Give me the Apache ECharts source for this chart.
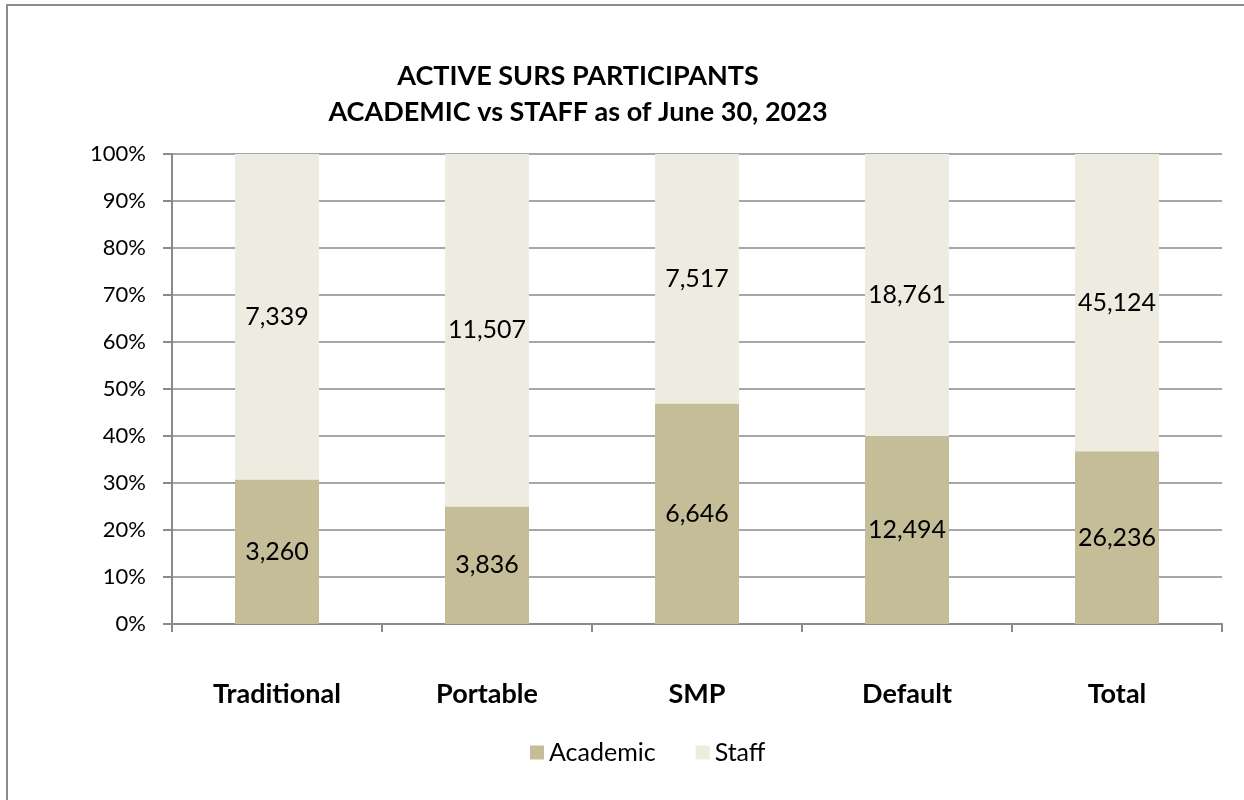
<!DOCTYPE html>
<html>
<head>
<meta charset="utf-8">
<script src="https://cdn.jsdelivr.net/npm/echarts@6/dist/echarts.min.js"></script>
<style>
  html, body { margin: 0; padding: 0; background: #fff; }
  #chart { width: 1244px; height: 800px; }
</style>
</head>
<body>
<div id="chart"></div>
<script>
// categories and counts
var categories = ['Traditional', 'Portable', 'SMP', 'Default', 'Total'];
var academic = [3260, 3836, 6646, 12494, 26236];
var staff = [7339, 11507, 7517, 18761, 45124];
var yTicks = [0, 10, 20, 30, 40, 50, 60, 70, 80, 90, 100];

// 100% stacked -> share of each column
function share(vals, i) {
  return vals[i] / (academic[i] + staff[i]) * 100;
}
var academicPct = categories.map(function (c, i) { return { value: share(academic, i), raw: academic[i] }; });
var staffPct = categories.map(function (c, i) { return { value: share(staff, i), raw: staff[i] }; });

var font = 'Lato, "Open Sans", sans-serif';
var gray = '#8a8a8a';

var chart = echarts.init(document.getElementById('chart'));
chart.setOption({
  animation: false,
  textStyle: { fontFamily: font },
  title: {
    text: 'ACTIVE SURS PARTICIPANTS\nACADEMIC vs STAFF as of June 30, 2023',
    left: 573,
    textAlign: 'center',
    top: 53,
    textStyle: { fontSize: 27, fontWeight: 'bold', color: '#000', lineHeight: 36, fontFamily: font }
  },
  legend: {
    bottom: 30,
    left: 525,
    icon: 'rect',
    itemWidth: 14,
    itemHeight: 14,
    itemGap: 40,
    textStyle: { fontSize: 25, color: '#000', fontFamily: font },
    data: ['Academic', 'Staff']
  },
  grid: { left: 172, right: 22, top: 154, bottom: 176, containLabel: false },
  xAxis: {
    type: 'category',
    data: categories,
    axisLine: { lineStyle: { color: gray, width: 2 } },
    axisTick: { show: true, length: 8, lineStyle: { color: gray, width: 2 } },
    axisLabel: { margin: 57, fontSize: 27, fontWeight: 'bold', color: '#000', fontFamily: font }
  },
  yAxis: {
    type: 'value',
    min: 0,
    max: 100,
    interval: 10,
    axisLine: { show: true, lineStyle: { color: gray, width: 2 } },
    axisTick: { show: true, length: 9, lineStyle: { color: gray, width: 2 } },
    splitLine: { lineStyle: { color: gray, width: 1.5 } },
    axisLabel: {
      margin: 26,
      fontSize: 22,
      color: '#000',
      fontFamily: font,
      formatter: function (v) { return yTicks.indexOf(v) >= 0 ? v + '%' : ''; }
    }
  },
  graphic: [{
    type: 'rect',
    shape: { x: 7, y: 5, width: 1400, height: 1000 },
    style: { fill: 'none', stroke: '#8c8c8c', lineWidth: 2 },
    silent: true
  }],
  series: [
    {
      name: 'Academic',
      type: 'bar',
      stack: 'all',
      barWidth: '40%',
      data: academicPct,
      itemStyle: { color: '#C4BD97' },
      label: {
        show: true,
        position: 'inside',
        fontSize: 25,
        color: '#000',
        fontFamily: font,
        formatter: function (p) { return p.data.raw.toLocaleString('en-US'); }
      }
    },
    {
      name: 'Staff',
      type: 'bar',
      stack: 'all',
      barWidth: '40%',
      data: staffPct,
      itemStyle: { color: '#EEECE1' },
      label: {
        show: true,
        position: 'inside',
        fontSize: 25,
        color: '#000',
        fontFamily: font,
        formatter: function (p) { return p.data.raw.toLocaleString('en-US'); }
      }
    }
  ]
});
</script>
</body>
</html>
